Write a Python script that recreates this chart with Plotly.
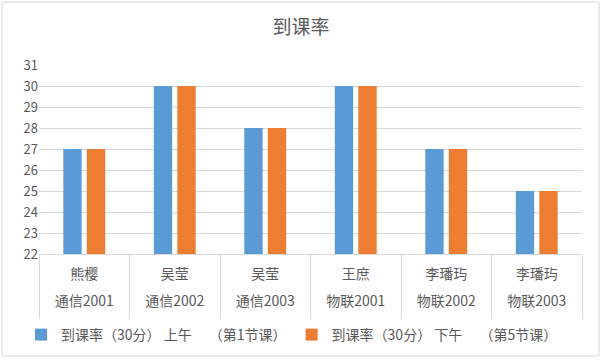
import plotly.graph_objects as go

names = ["熊樱", "吴莹", "吴莹", "王庶", "李璠玙", "李璠玙"]
classes = ["通信2001", "通信2002", "通信2003", "物联2001", "物联2002", "物联2003"]
morning = [27, 30, 28, 30, 27, 25]
afternoon = [27, 30, 28, 30, 27, 25]
series_names = ["到课率（30分） 上午　 （第1节课）", "到课率（30分） 下午　 （第5节课）"]
colors = ["#5b9bd5", "#ed7d31"]

FONT = "Noto Sans CJK SC"
GREY = "#595959"
LINE = "#d9d9d9"

idx = list(range(len(classes)))

fig = go.Figure()
for nm, vals, c in zip(series_names, [morning, afternoon], colors):
    fig.add_trace(go.Bar(x=classes, y=vals, name=nm, marker=dict(color=c, line=dict(width=0))))
# invisible helper traces so the two label axes are drawn
for ax in ["x2", "x3"]:
    fig.add_trace(go.Scatter(x=idx, y=morning, xaxis=ax, yaxis="y", mode="markers",
                             marker=dict(opacity=0, size=1), showlegend=False, hoverinfo="skip"))

W, H = 602, 361
L, R, T, B = 39, 20, 65, 20
pw, ph = W - L - R, H - T - B
axis_px = 254  # bottom of plot area (pixel)

def px2paper(px, py):
    return (px - L) / pw, (H - B - py) / ph

_, dom0 = px2paper(0, axis_px)
x0, y0 = px2paper(2, 356)
x1, y1 = px2paper(599, 2)
lx, ly = px2paper(292, 335)
_, pos_names = px2paper(0, 264)
_, pos_classes = px2paper(0, 291)

fig.update_layout(
    template="none",
    width=W, height=H,
    margin=dict(l=L, r=R, t=T, b=B, autoexpand=False),
    paper_bgcolor="white", plot_bgcolor="white",
    font=dict(family=FONT, color=GREY, size=12),
    title=dict(text="到课率", x=0.5, xanchor="center", y=1 - 27 / H, yanchor="middle",
               font=dict(size=19, color=GREY, family=FONT)),
    barmode="group", bargap=0.48, bargroupgap=0.22,
    showlegend=True,
    legend=dict(orientation="h", x=lx, xanchor="center", y=ly, yanchor="middle",
                font=dict(size=14, color=GREY), itemwidth=30,
                bgcolor="rgba(0,0,0,0)", borderwidth=0),
    shapes=[dict(type="rect", xref="paper", yref="paper", x0=x0, x1=x1, y0=y0, y1=y1,
                 line=dict(color=LINE, width=1), layer="below")],
    yaxis=dict(domain=[dom0, 1], range=[22, 31], dtick=1, showgrid=True, gridcolor=LINE,
               gridwidth=1, zeroline=False, showline=False, ticks="", automargin=False,
               tickfont=dict(size=13, color=GREY)),
    xaxis=dict(type="category", categoryorder="array", categoryarray=classes,
               showline=True, linecolor=LINE, linewidth=1, showgrid=False,
               tickson="boundaries", ticks="outside", ticklen=64, tickcolor=LINE, tickwidth=1,
               showticklabels=False, automargin=False),
    xaxis2=dict(overlaying="x", anchor="free", position=pos_names, side="bottom",
                type="linear", range=[-0.5, len(classes) - 0.5], tickvals=idx, ticktext=names,
                showline=False, showgrid=False, zeroline=False, ticks="", automargin=False,
                tickfont=dict(size=14, color=GREY)),
    xaxis3=dict(overlaying="x", anchor="free", position=pos_classes, side="bottom",
                type="linear", range=[-0.5, len(classes) - 0.5], tickvals=idx, ticktext=classes,
                showline=False, showgrid=False, zeroline=False, ticks="", automargin=False,
                tickfont=dict(size=14, color=GREY)),
)

fig.write_html("out.html", config={"displayModeBar": False},
               post_script="document.body.style.margin='0px';")
